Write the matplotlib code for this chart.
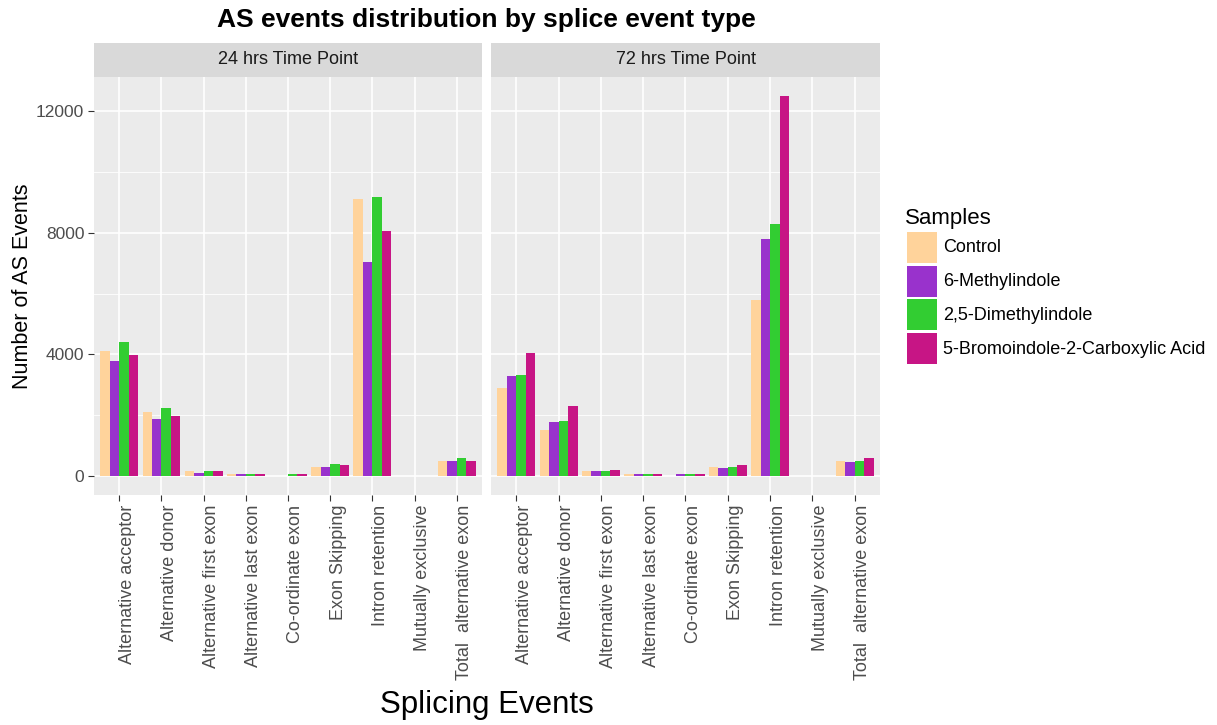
import matplotlib
matplotlib.use("Agg")
import matplotlib.pyplot as plt
import matplotlib.transforms as mtransforms
import numpy as np
from matplotlib.patches import Rectangle

plt.rcParams['font.family'] = ['Liberation Sans', 'DejaVu Sans']

categories = ["Alternative acceptor", "Alternative donor", "Alternative first exon",
              "Alternative last exon", "Co-ordinate exon", "Exon Skipping",
              "Intron retention", "Mutually exclusive", "Total  alternative exon"]
samples = ["Control", "6-Methylindole", "2,5-Dimethylindole", "5-Bromoindole-2-Carboxylic Acid"]
colors = ["#FFD39B", "#9932CC", "#32CD32", "#C71585"]
panels = ["24 hrs Time Point", "72 hrs Time Point"]

h24_control = [4100, 2100, 170, 50, 0, 300, 9120, 0, 500]
h24_methyl = [3770, 1860, 110, 60, 0, 300, 7050, 0, 500]
h24_dimethyl = [4400, 2250, 160, 60, 60, 400, 9180, 0, 590]
h24_bromo = [3970, 1960, 160, 60, 60, 360, 8060, 0, 500]

h72_control = [2900, 1520, 170, 50, 0, 300, 5790, 0, 500]
h72_methyl = [3300, 1760, 170, 60, 60, 255, 7780, 0, 455]
h72_dimethyl = [3330, 1810, 170, 60, 60, 300, 8300, 0, 500]
h72_bromo = [4060, 2290, 210, 60, 60, 360, 12500, 0, 600]

data = [[h24_control, h24_methyl, h24_dimethyl, h24_bromo],
        [h72_control, h72_methyl, h72_dimethyl, h72_bromo]]

W, H = 1217, 725
fig = plt.figure(figsize=(W / 100, H / 100), dpi=100)

def fx(px):
    return px / W

def fy(py):
    return 1 - py / H

panel_x = [(94, 482), (491, 880)]
ptop, pbot = 77, 495
strip_top = 43

ymax = 12500
ylo, yhi = -0.05 * ymax, 1.05 * ymax
x = np.arange(len(categories))
bw = 0.9 / 4

for pi, (l, r) in enumerate(panel_x):
    ax = fig.add_axes([fx(l), fy(pbot), fx(r) - fx(l), fy(ptop) - fy(pbot)])
    ax.set_facecolor("#EBEBEB")
    for s in ax.spines.values():
        s.set_visible(False)
    ax.set_xlim(-0.6, len(categories) - 0.4)
    ax.set_ylim(ylo, yhi)
    for yv in [2000, 6000, 10000]:
        ax.axhline(yv, color="white", lw=0.6, zorder=0)
    for yv in [0, 4000, 8000, 12000]:
        ax.axhline(yv, color="white", lw=1.2, zorder=0)
    for xv in x:
        ax.axvline(xv, color="white", lw=1.2, zorder=0)
    for si, vals in enumerate(data[pi]):
        ax.bar(x - 0.45 + bw * (si + 0.5), vals, width=bw, color=colors[si],
               zorder=2, linewidth=0)
    ax.set_xticks(x)
    ax.set_xticklabels(categories, rotation=90, fontsize=13, color="#4D4D4D")
    ax.tick_params(axis="x", length=4, color="#333333", pad=3)
    off = mtransforms.ScaledTranslation(8 / 100, 0, fig.dpi_scale_trans)
    for lab in ax.get_xticklabels():
        lab.set_transform(lab.get_transform() + off)
    ax.set_yticks([0, 4000, 8000, 12000])
    if pi == 0:
        ax.set_yticklabels(["0", "4000", "8000", "12000"], fontsize=12.5, color="#4D4D4D")
        ax.tick_params(axis="y", length=4, color="#333333", pad=3)
        ax.set_ylabel("Number of AS Events", fontsize=15.5, labelpad=2)
    else:
        ax.tick_params(axis="y", length=0, labelleft=False)
    # strip
    sax = fig.add_axes([fx(l), fy(ptop), fx(r) - fx(l), fy(strip_top) - fy(ptop)])
    sax.set_facecolor("#D9D9D9")
    sax.set_xticks([]); sax.set_yticks([])
    for s in sax.spines.values():
        s.set_visible(False)
    sax.text(0.5, 0.5, panels[pi], ha="center", va="center", fontsize=13,
             color="#1A1A1A", transform=sax.transAxes)

fig.text(fx(486), fy(20), "AS events distribution by splice event type",
         ha="center", va="center", fontsize=19, fontweight="bold")
fig.text(fx(487), fy(705), "Splicing Events", ha="center", va="center", fontsize=22.5)

# legend
fig.text(fx(905), fy(218), "Samples", ha="left", va="center", fontsize=16)
for i, (lab, c) in enumerate(zip(samples, colors)):
    y0 = 232 + i * 33.7
    fig.patches.append(Rectangle((fx(907), fy(y0 + 31)), fx(937) - fx(907),
                                 fy(y0) - fy(y0 + 31), transform=fig.transFigure,
                                 facecolor=c, edgecolor="none"))
    fig.text(fx(943), fy(y0 + 16), lab, ha="left", va="center", fontsize=13)

fig.savefig("out.png", dpi=100)
